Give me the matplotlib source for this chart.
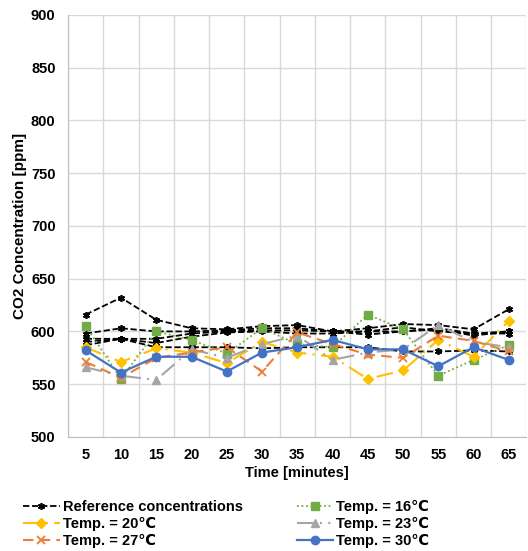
import numpy as np
import matplotlib
matplotlib.use("Agg")
import matplotlib.pyplot as plt

plt.rcParams['font.family'] = ['Liberation Sans', 'DejaVu Sans']
plt.rcParams['font.weight'] = 'bold'

# 数据
times = [5, 10, 15, 20, 25, 30, 35, 40, 45, 50, 55, 60, 65]
ref_1 = [616, 632, 611, 603, 602, 605, 606, 600, 603, 607, 606, 602, 621]
ref_2 = [598, 603, 600, 600, 601, 603, 603, 600, 600, 604, 600, 598, 600]
ref_3 = [593, 593, 593, 598, 600, 601, 601, 600, 597, 600, 602, 596, 600]
ref_4 = [590, 593, 589, 595, 599, 600, 598, 598, 600, 600, 603, 598, 598]
ref_5 = [587, 593, 585, 585, 585, 584, 585, 585, 585, 581, 581, 582, 581]
temp_16 = [605, 555, 600, 592, 579, 603, 588, 585, 616, 602, 558, 573, 587]
temp_20 = [585, 571, 584, 580, 570, 590, 580, 576, 555, 563, 592, 576, 610]
temp_23 = [566, 558, 554, 583, 575, 588, 596, 573, 580, 583, 606, 590, 585]
temp_27 = [571, 556, 575, 580, 585, 562, 599, 588, 578, 575, 596, 591, 581]
temp_30 = [582, 561, 576, 576, 562, 580, 585, 592, 583, 583, 567, 585, 573]

x = np.arange(len(times))

fig = plt.figure(figsize=(5.28, 5.51), dpi=100)
ax = fig.add_axes([0.129, 0.207, 0.868, 0.766])

# 参考浓度线（只在图例里出现一次）
refs = [ref_1, ref_2, ref_3, ref_4, ref_5]
for i, r in enumerate(refs):
    ax.plot(x, r, color='black', linestyle=(0, (3.5, 1.5)), linewidth=1.3,
            marker=(6, 2, 0), markersize=5, markeredgewidth=1.2,
            label='Reference concentrations' if i == 0 else '_nolegend_', zorder=3)

ax.plot(x, temp_16, color='#70AD47', linestyle=(0, (1, 1.5)), linewidth=1.3,
        marker='s', markersize=6, label='Temp. = 16℃', zorder=4)
ax.plot(x, temp_20, color='#FFC000', linestyle=(0, (8, 3, 1, 3)), linewidth=1.5,
        marker='D', markersize=5, label='Temp. = 20℃', zorder=4)
ax.plot(x, temp_23, color='#A5A5A5', linestyle=(0, (8, 3, 1, 3, 1, 3)), linewidth=1.5,
        marker='^', markersize=6, label='Temp. = 23℃', zorder=4)
ax.plot(x, temp_27, color='#ED7D31', linestyle=(0, (5, 3)), linewidth=1.5,
        marker='x', markersize=6, markeredgewidth=1.3, label='Temp. = 27℃', zorder=4)
ax.plot(x, temp_30, color='#4472C4', linestyle='-', linewidth=1.6,
        marker='o', markersize=6, label='Temp. = 30℃', zorder=5)

ax.set_xlim(-0.5, len(times) - 0.5)
ax.set_ylim(500, 900)
ax.set_yticks(np.arange(500, 901, 50))
ax.set_xticks(x)
ax.set_xticklabels([str(t) for t in times])
ax.set_xticks(np.arange(-0.5, len(times), 1), minor=True)
ax.tick_params(axis='both', which='both', length=0, labelsize=10.5, pad=8)
ax.tick_params(axis='y', pad=9)
ax.grid(axis='y', which='major', color='#D9D9D9', linewidth=1)
ax.grid(axis='x', which='minor', color='#D9D9D9', linewidth=1)
ax.set_axisbelow(True)
for s in ['top', 'right']:
    ax.spines[s].set_visible(False)
for s in ['left', 'bottom']:
    ax.spines[s].set_color('#BFBFBF')

ax.set_xlabel('Time [minutes]', fontsize=10.5, fontweight='bold', labelpad=3)
ax.set_ylabel('CO2 Concentration [ppm]', fontsize=11, fontweight='bold', labelpad=3)

handles, labels = ax.get_legend_handles_labels()
order = [0, 2, 4, 1, 3, 5]
fig.legend([handles[i] for i in order], [labels[i] for i in order],
           loc='upper left', bbox_to_anchor=(0.044, 0.093), ncol=2, frameon=False,
           fontsize=10.5, handlelength=2.5, handletextpad=0.2, columnspacing=3.7,
           labelspacing=0.2, borderpad=0, borderaxespad=0)

fig.savefig('out.png', dpi=100)
